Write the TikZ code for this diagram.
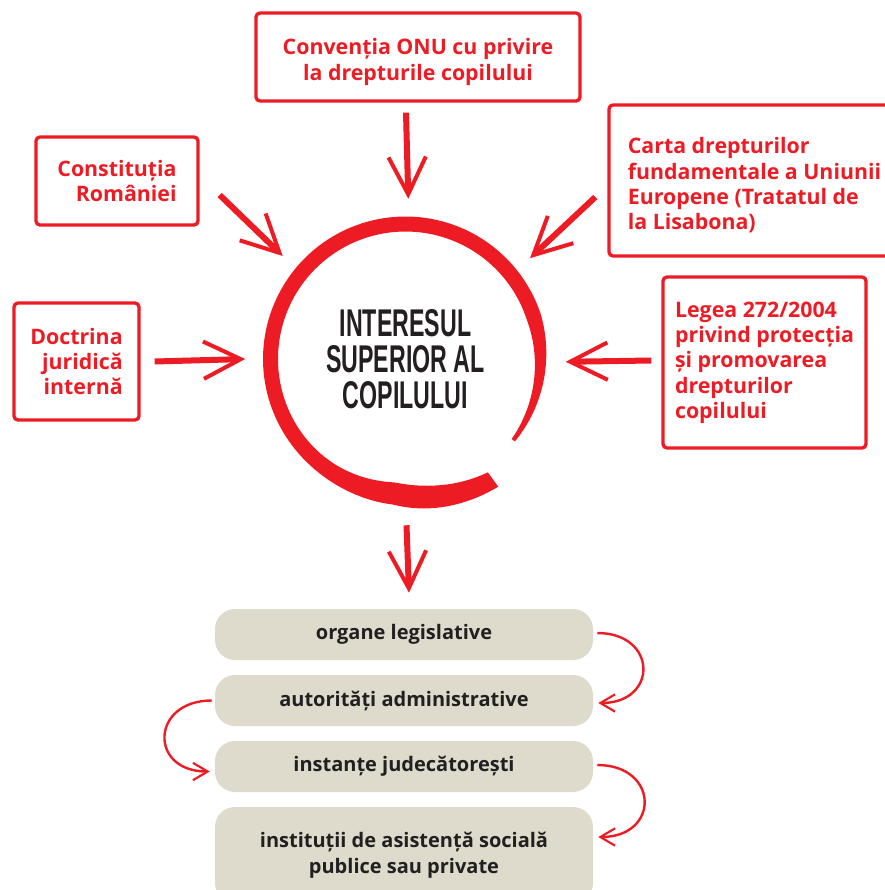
\documentclass[tikz,border=0pt]{standalone}
\usepackage{fontspec}
\setmainfont{Open Sans}
\newfontfamily\condfont[FakeStretch=0.6]{Liberation Sans}
\usetikzlibrary{arrows.meta}
\definecolor{lawred}{RGB}{237,28,36}
\definecolor{inkdark}{RGB}{35,31,32}
\definecolor{sand}{RGB}{222,219,204}
\hyphenpenalty=10000

\begin{document}
\begin{tikzpicture}[x=0.75pt,y=-0.75pt,
    srcbox/.style={draw=lawred,line width=2.5pt,rounded corners=3pt,
        text=lawred,font=\fontsize{16}{19}\selectfont\bfseries},
    organbox/.style={fill=sand,rounded corners=15pt,
        minimum width=283.5pt,text=inkdark,align=center,
        font=\fontsize{15}{19.5}\selectfont\bfseries},
    inarrow/.style={draw=lawred,line width=4.5pt,
        -{Straight Barb[length=28pt,width=28pt,line width=3pt]}},
    turnarrow/.style={draw=lawred,line width=1.8pt,
        -{Straight Barb[length=11pt,width=13pt,line width=1.6pt]}},
    declare function={
        ringw(\t)=min(15,4+(\t+37)*0.2)+8*exp(-((\t-275)/30)^2);
        ringr(\t)=135+0.34*max(0,\t-265);}]
    \useasboundingbox (0,0) rectangle (885,890);

    % Ring
    \fill[lawred] plot[domain=-37:306,samples=160]
        ({405.5+(ringr(\x)+ringw(\x)/2)*cos(\x)},
         {359-(ringr(\x)+ringw(\x)/2)*sin(\x)})
        -- plot[domain=306:-37,samples=160]
        ({405.5+(ringr(\x)-ringw(\x)/2)*cos(\x)},
         {359-(ringr(\x)-ringw(\x)/2)*sin(\x)})
        -- cycle;
    \node (core) [circle,minimum size=240pt,inner sep=0pt,
        align=center,text=inkdark,
        font=\fontsize{29}{27}\condfont\bfseries\selectfont]
        at (405.5,359) {INTERESUL\\SUPERIOR AL\\COPILULUI};

    % Sources
    \node (onu) [srcbox,minimum width=243pt,minimum height=66pt,
        align=center] at (418,57)
        {\rule{0pt}{19.5pt}Convenția ONU cu privire\\la drepturile copilului};
    \node (const) [srcbox,minimum width=121.5pt,minimum height=66pt,
        align=right] at (117,181) {Constituția\\României};
    \node (carta) [srcbox,minimum width=218.25pt,minimum height=113.25pt,
        align=left] at (754.5,180.5) {\rule{0pt}{19.5pt}Carta drepturilor\\%
        fundamentale a Uniunii\\Europene (Tratatul de\\la Lisabona)};
    \node (doctrina) [srcbox,minimum width=93.75pt,minimum height=87.75pt,
        align=right] at (76.5,361.5) {Doctrina\\juridică\\internă};
    \node (legea) [srcbox,minimum width=152.25pt,minimum height=128.25pt,
        align=left] at (764.5,362.5) {Legea 272/2004\\privind protecția\\%
        și promovarea\\drepturilor\\copilului};

    % Arrows in
    \draw[inarrow] ([shift={(-12,10)}]onu.south) -- (core.89);
    \draw[inarrow] ([shift={(20,14)}]const.east) -- (core.140);
    \draw[inarrow] ([shift={(-12,16.5)}]carta.west) -- (core.39);
    \draw[inarrow] ([shift={(14,0)}]doctrina.east) -- (core.180);
    \draw[inarrow] ([shift={(-10,-2)}]legea.west) -- (core.-1);

    % Organs
    \node (org1) [organbox,minimum height=38.25pt] at (404,634.5)
        {organe legislative};
    \node (org2) [organbox,minimum height=38.25pt] at (404,700.5)
        {autorități administrative};
    \node (org3) [organbox,minimum height=38.25pt] at (404,766.5)
        {instanțe judecătorești};
    \node (org4) [organbox,minimum height=72pt] at (404,855)
        {instituții de asistență socială\\publice sau private};

    % Arrows out
    \draw[inarrow] ([shift={(1,6)}]core.south)
        -- ([shift={(5,-16)}]org1.north);
    \draw[turnarrow] ([shift={(4,-1.5)}]org1.east)
        to[out=0,in=0,looseness=2.2] ([shift={(5,2.5)}]org2.east);
    \draw[turnarrow] ([shift={(-3,0)}]org2.west)
        to[out=180,in=180,looseness=2.2] ([shift={(-5,5)}]org3.west);
    \draw[turnarrow] ([shift={(4,-1.5)}]org3.east)
        to[out=0,in=0,looseness=2.2] ([shift={(5,-18)}]org4.east);
\end{tikzpicture}
\end{document}
